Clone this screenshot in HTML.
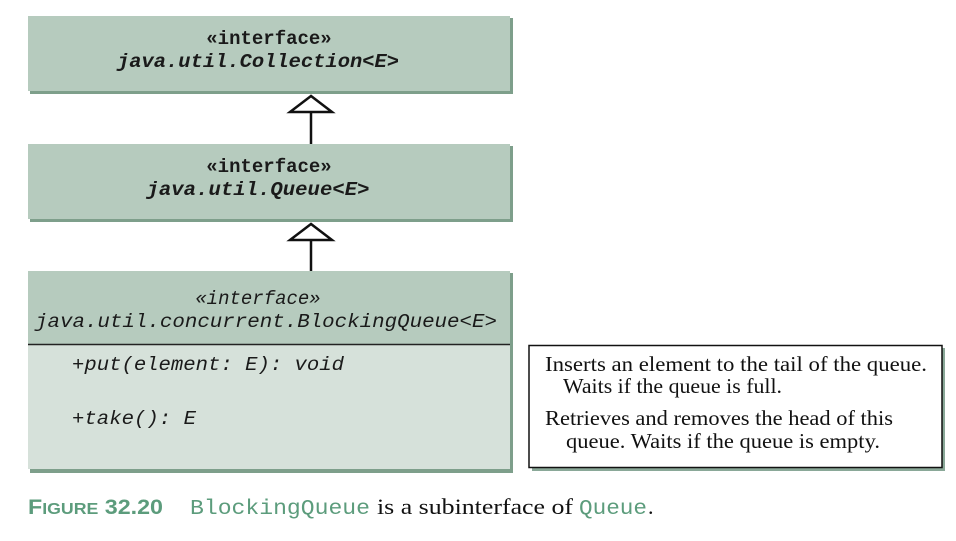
<!DOCTYPE html>
<html><head><meta charset="utf-8"><style>
body{margin:0;background:#fff;}
svg{display:block;}
.m{font-family:"Liberation Mono",monospace;font-size:19px;fill:#1a1a1a;}
.s{font-family:"Liberation Serif",serif;font-size:21px;fill:#111;}
</style></head><body>
<svg width="956" height="541" viewBox="0 0 956 541" xmlns="http://www.w3.org/2000/svg">
<!-- box 1 -->
<rect x="30" y="18" width="483" height="76" fill="#7e9f8b"/>
<rect x="28" y="16" width="482" height="75" fill="#b6cbbe"/>
<text class="m" x="269" y="44" text-anchor="middle" font-weight="bold">«interface»</text>
<text class="m" x="258" y="67" text-anchor="middle" font-style="italic" font-weight="bold" textLength="282" lengthAdjust="spacingAndGlyphs">java.util.Collection&lt;E&gt;</text>
<!-- box 2 -->
<rect x="30" y="146" width="483" height="76" fill="#7e9f8b"/>
<rect x="28" y="144" width="482" height="75" fill="#b6cbbe"/>
<text class="m" x="269" y="172" text-anchor="middle" font-weight="bold">«interface»</text>
<text class="m" x="258" y="195" text-anchor="middle" font-style="italic" font-weight="bold" textLength="223" lengthAdjust="spacingAndGlyphs">java.util.Queue&lt;E&gt;</text>
<!-- box 3 -->
<rect x="30" y="273" width="483" height="200" fill="#7e9f8b"/>
<rect x="28" y="271" width="482" height="74" fill="#b6cbbe"/>
<rect x="28" y="345" width="482" height="124" fill="#d6e1da"/>
<line x1="28" y1="344.5" x2="510" y2="344.5" stroke="#222" stroke-width="1.5"/>
<text class="m" x="258" y="304" text-anchor="middle" font-style="italic">«interface»</text>
<text class="m" x="266" y="327" text-anchor="middle" font-style="italic" textLength="462" lengthAdjust="spacingAndGlyphs">java.util.concurrent.BlockingQueue&lt;E&gt;</text>
<text class="m" x="72" y="370" font-style="italic" textLength="272" lengthAdjust="spacingAndGlyphs">+put(element: E): void</text>
<text class="m" x="72" y="424" font-style="italic" textLength="124" lengthAdjust="spacingAndGlyphs">+take(): E</text>
<!-- arrows -->
<line x1="311" y1="112" x2="311" y2="144" stroke="#111" stroke-width="2.5"/>
<polygon points="311,96 290,112 332,112" fill="#fff" stroke="#111" stroke-width="2.5"/>
<line x1="311" y1="240" x2="311" y2="271" stroke="#111" stroke-width="2.5"/>
<polygon points="311,224 290,240 332,240" fill="#fff" stroke="#111" stroke-width="2.5"/>
<!-- note -->
<rect x="532" y="348" width="413" height="123" fill="#8aa898"/>
<rect x="529" y="345.5" width="413" height="122" fill="#fff" stroke="#111" stroke-width="1.5"/>
<text class="s" x="545" y="371" textLength="382" lengthAdjust="spacingAndGlyphs">Inserts an element to the tail of the queue.</text>
<text class="s" x="563" y="393" textLength="219" lengthAdjust="spacingAndGlyphs">Waits if the queue is full.</text>
<text class="s" x="545" y="425" textLength="348" lengthAdjust="spacingAndGlyphs">Retrieves and removes the head of this</text>
<text class="s" x="566" y="448" textLength="314" lengthAdjust="spacingAndGlyphs">queue. Waits if the queue is empty.</text>
<!-- caption -->
<text x="28" y="514" font-family="Liberation Sans Narrow,Liberation Sans,sans-serif" font-size="21" font-weight="bold" fill="#5c9c7c" textLength="135" lengthAdjust="spacingAndGlyphs">F<tspan font-size="16">IGURE</tspan> 32.20</text>
<text x="190" y="514" font-family="Liberation Mono,monospace" font-size="21" fill="#5c9c7c" textLength="180" lengthAdjust="spacingAndGlyphs">BlockingQueue</text>
<text x="377" y="514" font-family="Liberation Serif,serif" font-size="22" fill="#111" textLength="196" lengthAdjust="spacingAndGlyphs">is a subinterface of</text>
<text x="579" y="514" font-family="Liberation Mono,monospace" font-size="21" fill="#5c9c7c" textLength="68" lengthAdjust="spacingAndGlyphs">Queue</text>
<text x="648" y="514" font-family="Liberation Serif,serif" font-size="22" fill="#111">.</text>
</svg>
</body></html>
